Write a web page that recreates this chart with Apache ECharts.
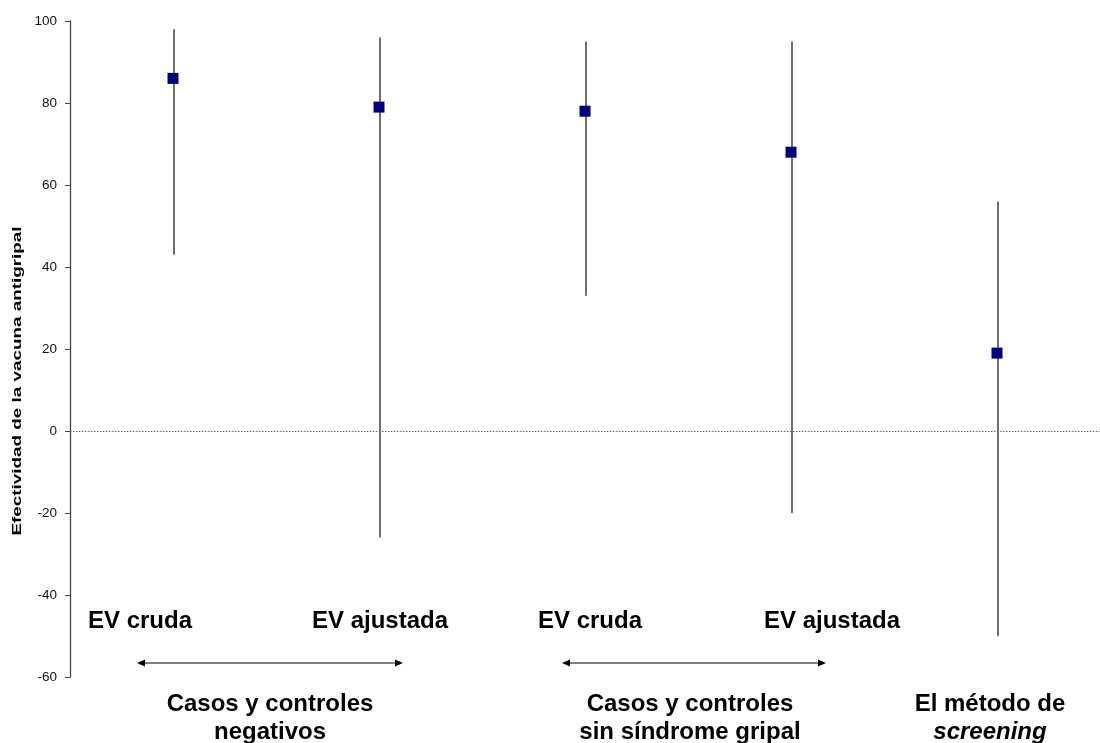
<!DOCTYPE html>
<html>
<head>
<meta charset="utf-8">
<script src="https://cdn.jsdelivr.net/npm/echarts@6/dist/echarts.min.js"></script>
<style>
html,body{margin:0;padding:0;background:#fff;}
#chart{width:1100px;height:743px;}
</style>
</head>
<body>
<div id="chart"></div>
<script>
// ---- data ----
const categories = ['EV cruda (negativos)', 'EV ajustada (negativos)', 'EV cruda (sin SG)', 'EV ajustada (sin SG)', 'Screening'];
const estimates = [86, 79, 78, 68, 19];
const lowerCI = [43, -26, 33, -20, -50];
const upperCI = [98, 96, 95, 95, 56];
const yMin = -60, yMax = 100, yStep = 20;
const yTitle = 'Efectividad de la vacuna antigripal';
const subLabels = ['EV cruda', 'EV ajustada', 'EV cruda', 'EV ajustada'];
const groupLabels = ['Casos y controles\nnegativos', 'Casos y controles\nsin síndrome gripal'];
const methodLine1 = 'El método de';
const methodLine2 = 'screening';

const FONT = '"Liberation Sans", Arial, sans-serif';
const chart = echarts.init(document.getElementById('chart'), null, {renderer: 'canvas'});

const errData = categories.map((c, i) => [i, lowerCI[i], upperCI[i]]);
const ptData = categories.map((c, i) => [i, estimates[i]]);

function arrow(x1, x2, y) {
  const h = 8, w = 3.5;
  return {
    type: 'group',
    children: [
      {type: 'line', shape: {x1: x1 + 4, y1: y, x2: x2 - 4, y2: y}, style: {stroke: '#000', lineWidth: 1.2}},
      {type: 'polygon', shape: {points: [[x1, y], [x1 + h, y - w], [x1 + h, y + w]]}, style: {fill: '#000'}},
      {type: 'polygon', shape: {points: [[x2, y], [x2 - h, y - w], [x2 - h, y + w]]}, style: {fill: '#000'}}
    ]
  };
}

function label(text, x, y) {
  return {
    type: 'text', x: x, y: y,
    style: {text: text, fontFamily: FONT, fontSize: 24, fontWeight: 'bold', fill: '#000',
      align: 'center', verticalAlign: 'middle', lineHeight: 28}
  };
}

const option = {
  animation: false,
  backgroundColor: '#fff',
  grid: {left: 70, right: -5, top: 21, bottom: 66, containLabel: false},
  xAxis: {
    type: 'category', data: categories, boundaryGap: true,
    axisLine: {show: false}, axisTick: {show: false}, axisLabel: {show: false}, splitLine: {show: false}
  },
  yAxis: {
    type: 'value', min: yMin, max: yMax, interval: yStep,
    axisLine: {show: true, lineStyle: {color: '#444', width: 1.3}},
    axisTick: {show: true, inside: false, length: 5, lineStyle: {color: '#444', width: 1}},
    axisLabel: {color: '#111', fontSize: 13.5, fontFamily: FONT, margin: 13},
    splitLine: {show: false}
  },
  series: [
    {
      type: 'custom',
      data: errData,
      encode: {x: 0, y: [1, 2]},
      renderItem: function (params, api) {
        const lo = api.coord([api.value(0), api.value(1)]);
        const hi = api.coord([api.value(0), api.value(2)]);
        return {
          type: 'line',
          shape: {x1: lo[0] + 1, y1: lo[1], x2: hi[0] + 1, y2: hi[1]},
          style: {stroke: '#222', lineWidth: 1.3}
        };
      },
      z: 2
    },
    {
      type: 'scatter',
      data: ptData,
      symbol: 'rect',
      symbolSize: 11,
      itemStyle: {color: '#000080', opacity: 1},
      z: 3,
      markLine: {
        silent: true, symbol: 'none', label: {show: false},
        lineStyle: {color: '#666', type: [1.5, 1.5], width: 1},
        data: [{yAxis: 0}]
      }
    }
  ],
  graphic: [
    {
      type: 'text', x: 17, y: 381, rotation: Math.PI / 2, scaleX: 1.45, scaleY: 1,
      style: {text: yTitle, fontFamily: FONT, fontSize: 13, fontWeight: 'bold', fill: '#000',
        align: 'center', verticalAlign: 'middle'}
    },
    label(subLabels[0], 140, 621),
    label(subLabels[1], 380, 621),
    label(subLabels[2], 590, 621),
    label(subLabels[3], 832, 621),
    arrow(137, 403, 663),
    arrow(562, 826, 663),
    label(groupLabels[0], 270, 718),
    label(groupLabels[1], 690, 718),
    {
      type: 'text', x: 990, y: 718,
      style: {
        text: '{b|' + methodLine1 + '}\n{i|' + methodLine2 + '}',
        align: 'center', verticalAlign: 'middle',
        rich: {
          b: {fontFamily: FONT, fontSize: 24, fontWeight: 'bold', fill: '#000', lineHeight: 28, align: 'center'},
          i: {fontFamily: FONT, fontSize: 24, fontWeight: 'bold', fontStyle: 'italic', fill: '#000', lineHeight: 28, align: 'center'}
        }
      }
    }
  ]
};
chart.setOption(option);
</script>
</body>
</html>
